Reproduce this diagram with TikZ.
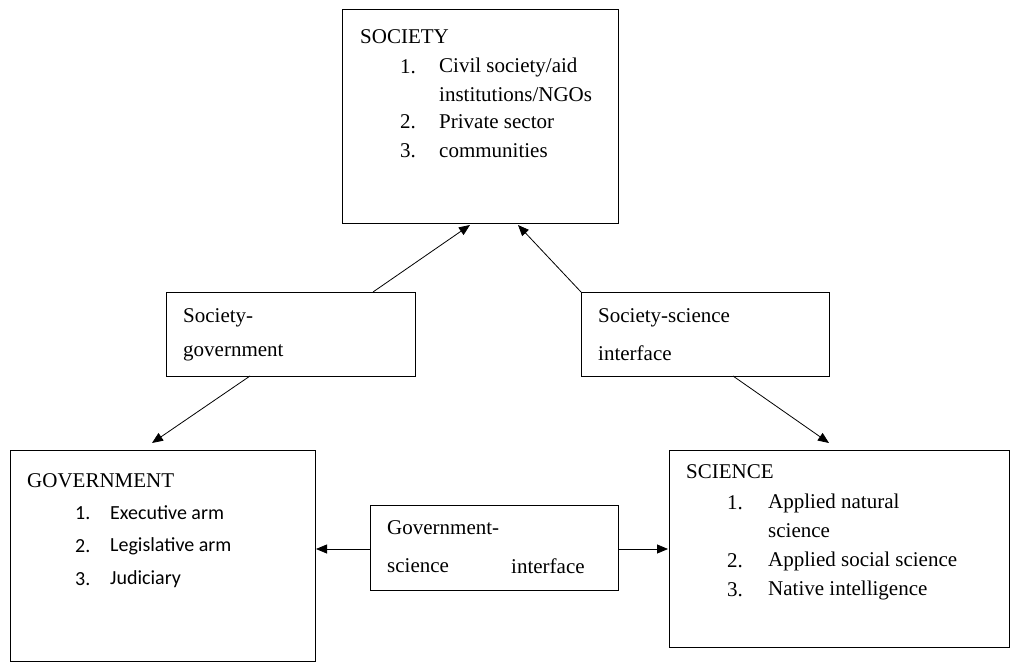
\documentclass[tikz,border=0pt]{standalone}
\usepackage{fontspec}
\setmainfont{Liberation Serif}
\newfontfamily\carl{Carlito}
\usetikzlibrary{arrows.meta}
\begin{document}
\begin{tikzpicture}[x=1pt,y=-1pt,
  box/.style={draw,line width=1pt},
  t/.style={anchor=west,inner sep=0pt,font=\fontsize{21}{25}\selectfont},
  ts/.style={t,font=\fontsize{20}{24}\selectfont\carl},
  arr/.style={line width=0.8pt,-{Triangle[length=11pt,width=9pt]}}]
\useasboundingbox (0,0) rectangle (1024,668);
\draw[box] (342,10) rectangle (618,224);
\draw[box] (166,292) rectangle (415,376);
\draw[box] (581,292) rectangle (829,376);
\draw[box] (10,450) rectangle (315,661);
\draw[box] (370,505) rectangle (618,590);
\draw[box] (669,450) rectangle (1009,647);
\coordinate (s1) at (470,225); \coordinate (s2) at (518,225);
\coordinate (sg1) at (373,292); \coordinate (sg2) at (250,376);
\coordinate (ss1) at (581,292); \coordinate (ss2) at (733,376);
\coordinate (g) at (152,443); \coordinate (sc) at (829,443);
\coordinate (gs1) at (370,549); \coordinate (gs2) at (618,549);
\coordinate (ge) at (316,549); \coordinate (se) at (668,549);
\draw[arr] (sg1) -- (s1);
\draw[arr] (sg2) -- (g);
\draw[arr] (ss1) -- (s2);
\draw[arr] (ss2) -- (sc);
\draw[arr] (gs1) -- (ge);
\draw[arr] (gs2) -- (se);
\node[t] (a1) at (360,37) {SOCIETY};
\node[t] (a2) at (400,67) {1.}; \node[t] (a3) at (439,67) {Civil society/aid};
\node[t] (a4) at (439,95) {institutions/NGOs};
\node[t] (a5) at (400,122) {2.}; \node[t] (a6) at (439,122) {Private sector};
\node[t] (a7) at (400,151) {3.}; \node[t] (a8) at (439,151) {communities};
\node[t] (b1) at (183,318) {Society-};
\node[t] (b2) at (183,353) {government};
\node[t] (c1) at (598,318) {Society-science};
\node[t] (c2) at (598,353) {interface};
\node[t] (d1) at (27,481) {GOVERNMENT};
\node[ts] (d2) at (75,513) {1.}; \node[ts] (d3) at (110,513) {Executive arm};
\node[ts] (d4) at (75,546) {2.}; \node[ts] (d5) at (110,546) {Legislative arm};
\node[ts] (d6) at (75,579) {3.}; \node[ts] (d7) at (110,579) {Judiciary};
\node[t] (e1) at (387,528) {Government-};
\node[t] (e2) at (387,566) {science};
\node[t] (e3) at (511,566) {interface};
\node[t] (f1) at (686,472) {SCIENCE};
\node[t] (f2) at (727,503) {1.}; \node[t] (f3) at (768,503) {Applied natural};
\node[t] (f4) at (768,531) {science};
\node[t] (f5) at (727,561) {2.}; \node[t] (f6) at (768,561) {Applied social science};
\node[t] (f7) at (727,590) {3.}; \node[t] (f8) at (768,590) {Native intelligence};
\end{tikzpicture}
\end{document}
